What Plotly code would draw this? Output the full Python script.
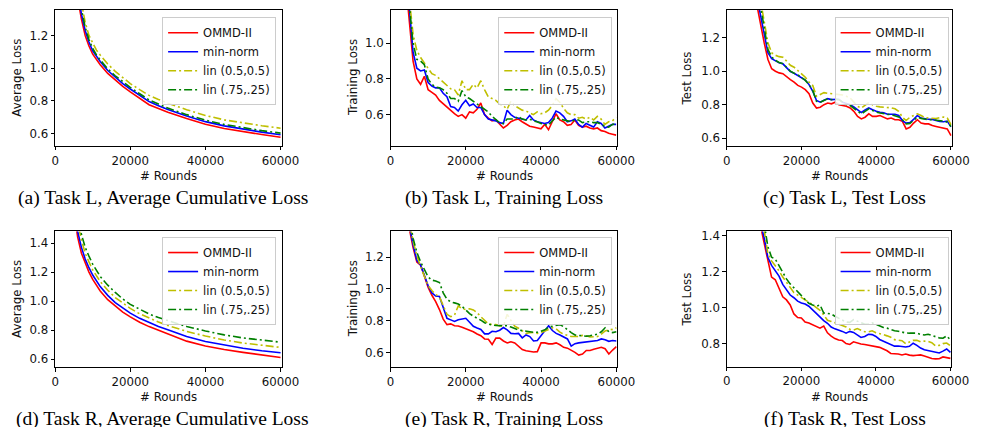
import plotly.graph_objects as go

# ---------------- data ----------------
LABELS = ["OMMD-II", "min-norm", "lin (0.5,0.5)", "lin (.75,.25)"]
COLORS = ["#ff0000", "#0000ff", "#bfbf00", "#008000"]
DASHES = ["solid", "solid", "8px,3px,2px,3px", "8px,3px,2px,3px"]

X_TICKS = [0, 20000, 40000, 60000]

# (a) Task L, average cumulative loss
a_x = [6000, 7000, 8000, 9000, 10000, 11000, 12000, 14000, 16000, 18000, 20000,
       22500, 25000, 27500, 30000, 35000, 40000, 45000, 50000, 55000, 60000]
a_ommd = [1.43, 1.30, 1.20, 1.135, 1.085, 1.05, 1.02, 0.967, 0.925, 0.888, 0.854,
          0.815, 0.776, 0.752, 0.729, 0.691, 0.656, 0.63, 0.61, 0.593, 0.576]
a_minnorm = [1.48, 1.33, 1.23, 1.16, 1.105, 1.07, 1.04, 0.985, 0.943, 0.905, 0.872,
             0.833, 0.795, 0.77, 0.746, 0.707, 0.672, 0.646, 0.625, 0.608, 0.592]
a_lin55 = [1.52, 1.39, 1.28, 1.20, 1.15, 1.11, 1.08, 1.025, 0.98, 0.94, 0.905,
           0.868, 0.833, 0.808, 0.785, 0.745, 0.71, 0.683, 0.663, 0.647, 0.632]
a_lin7525 = [1.50, 1.36, 1.25, 1.175, 1.12, 1.08, 1.05, 0.995, 0.953, 0.915, 0.882,
             0.843, 0.805, 0.78, 0.755, 0.715, 0.681, 0.655, 0.634, 0.617, 0.602]

# (b) Task L, training loss
b_x = [4000, 5000, 6000, 7000, 8000, 9000, 10000, 11000, 12000, 13000, 14000, 15000,
       16000, 17000, 18000, 19000, 20000, 21000, 22000, 23000, 24000, 25000, 26000,
       27000, 28000, 29000, 30000, 31000, 32000, 33000, 34000, 35000, 36000, 37000,
       38000, 39000, 40000, 41000, 42000, 43000, 44000, 45000, 46000, 47000, 48000,
       49000, 50000, 51000, 52000, 53000, 54000, 55000, 56000, 57000, 58000, 59000, 60000]
b_ommd = [1.35, 1.12, 0.90, 0.80, 0.77, 0.815, 0.74, 0.725, 0.71, 0.68, 0.66, 0.645,
          0.62, 0.605, 0.59, 0.60, 0.58, 0.615, 0.61, 0.63, 0.665, 0.60, 0.58, 0.565,
          0.57, 0.55, 0.525, 0.54, 0.56, 0.57, 0.575, 0.56, 0.545, 0.535, 0.53, 0.525,
          0.52, 0.545, 0.515, 0.56, 0.605, 0.57, 0.56, 0.54, 0.545, 0.57, 0.54, 0.53,
          0.535, 0.525, 0.52, 0.525, 0.51, 0.505, 0.495, 0.49, 0.485]
b_minnorm = [1.40, 1.20, 0.95, 0.86, 0.845, 0.85, 0.78, 0.76, 0.75, 0.75, 0.72, 0.70,
             0.645, 0.64, 0.62, 0.655, 0.68, 0.65, 0.66, 0.64, 0.64, 0.60, 0.575, 0.57,
             0.565, 0.555, 0.55, 0.625, 0.60, 0.585, 0.58, 0.575, 0.57, 0.595, 0.57,
             0.56, 0.555, 0.55, 0.555, 0.58, 0.62, 0.61, 0.59, 0.56, 0.565, 0.575,
             0.545, 0.53, 0.55, 0.54, 0.53, 0.56, 0.55, 0.525, 0.535, 0.545, 0.545]
b_lin55 = [1.45, 1.25, 1.05, 0.96, 0.92, 0.89, 0.86, 0.83, 0.82, 0.80, 0.785, 0.76,
           0.745, 0.74, 0.71, 0.79, 0.74, 0.74, 0.77, 0.75, 0.79, 0.74, 0.70, 0.69,
           0.68, 0.66, 0.65, 0.63, 0.675, 0.65, 0.635, 0.625, 0.62, 0.61, 0.60, 0.615,
           0.605, 0.61, 0.625, 0.65, 0.69, 0.67, 0.635, 0.61, 0.60, 0.60, 0.58, 0.585,
           0.575, 0.585, 0.57, 0.59, 0.575, 0.545, 0.56, 0.565, 0.585]
b_lin7525 = [1.42, 1.20, 1.00, 0.91, 0.90, 0.88, 0.80, 0.77, 0.755, 0.75, 0.74, 0.72,
             0.69, 0.69, 0.675, 0.735, 0.70, 0.69, 0.675, 0.665, 0.65, 0.635, 0.615,
             0.59, 0.57, 0.555, 0.55, 0.575, 0.575, 0.575, 0.59, 0.575, 0.57, 0.575,
             0.565, 0.56, 0.55, 0.545, 0.54, 0.565, 0.585, 0.575, 0.57, 0.565, 0.56,
             0.57, 0.57, 0.555, 0.56, 0.56, 0.555, 0.555, 0.545, 0.535, 0.53, 0.545, 0.55]

# (c) Task L, test loss
c_x = [8000, 9000, 10000, 11000, 12000, 13000, 14000, 15000, 16000, 17000, 18000,
       19000, 20000, 21000, 22000, 23000, 24000, 25000, 26000, 27000, 28000, 29000,
       30000, 31000, 32000, 33000, 34000, 35000, 36000, 37000, 38000, 39000, 40000,
       41000, 42000, 43000, 44000, 45000, 46000, 47000, 48000, 49000, 50000, 51000,
       52000, 53000, 54000, 55000, 56000, 57000, 58000, 59000, 60000]
c_ommd = [1.40, 1.28, 1.17, 1.07, 1.015, 1.00, 0.99, 0.985, 0.965, 0.95, 0.935, 0.915,
          0.905, 0.89, 0.865, 0.81, 0.78, 0.785, 0.80, 0.81, 0.805, 0.815, 0.80, 0.795,
          0.79, 0.78, 0.76, 0.73, 0.715, 0.725, 0.745, 0.73, 0.73, 0.735, 0.725, 0.715,
          0.72, 0.71, 0.71, 0.70, 0.655, 0.665, 0.69, 0.71, 0.69, 0.685, 0.685, 0.675,
          0.67, 0.665, 0.66, 0.655, 0.615]
c_minnorm = [1.45, 1.33, 1.21, 1.11, 1.075, 1.06, 1.05, 1.044, 1.022, 0.998, 0.988,
             0.975, 0.962, 0.947, 0.92, 0.88, 0.825, 0.815, 0.826, 0.836, 0.83, 0.833,
             0.832, 0.814, 0.806, 0.80, 0.786, 0.77, 0.753, 0.768, 0.78, 0.77, 0.76,
             0.755, 0.752, 0.743, 0.742, 0.743, 0.735, 0.705, 0.69, 0.693, 0.712, 0.735,
             0.72, 0.715, 0.713, 0.712, 0.706, 0.699, 0.698, 0.702, 0.667]
c_lin55 = [1.55, 1.42, 1.30, 1.17, 1.11, 1.095, 1.087, 1.083, 1.06, 1.035, 1.024, 1.005,
           0.985, 0.964, 0.935, 0.915, 0.85, 0.86, 0.872, 0.868, 0.866, 0.865, 0.862,
           0.858, 0.85, 0.84, 0.815, 0.79, 0.78, 0.795, 0.812, 0.80, 0.79, 0.787, 0.786,
           0.784, 0.781, 0.775, 0.76, 0.725, 0.705, 0.725, 0.735, 0.745, 0.735, 0.722,
           0.72, 0.718, 0.717, 0.722, 0.726, 0.72, 0.68]
c_lin7525 = [1.52, 1.40, 1.26, 1.13, 1.085, 1.065, 1.052, 1.045, 1.022, 1.00, 0.988,
             0.978, 0.962, 0.945, 0.92, 0.885, 0.82, 0.815, 0.825, 0.835, 0.83, 0.834,
             0.83, 0.815, 0.80, 0.795, 0.78, 0.76, 0.745, 0.76, 0.775, 0.765, 0.755,
             0.75, 0.745, 0.742, 0.74, 0.733, 0.727, 0.71, 0.685, 0.688, 0.705, 0.725,
             0.717, 0.713, 0.71, 0.71, 0.708, 0.705, 0.702, 0.695, 0.67]

# (d) Task R, average cumulative loss
d_x = [5000, 6000, 7000, 8000, 9000, 10000, 12000, 14000, 16000, 18000, 20000,
       22500, 25000, 27500, 30000, 35000, 40000, 45000, 50000, 55000, 60000]
d_ommd = [1.62, 1.44, 1.33, 1.26, 1.20, 1.15, 1.07, 1.01, 0.965, 0.925, 0.892,
          0.855, 0.825, 0.80, 0.777, 0.725, 0.692, 0.667, 0.648, 0.63, 0.613]
d_minnorm = [1.66, 1.48, 1.37, 1.29, 1.23, 1.18, 1.10, 1.04, 0.99, 0.952, 0.918,
             0.882, 0.852, 0.826, 0.803, 0.757, 0.723, 0.697, 0.676, 0.659, 0.645]
d_lin55 = [1.72, 1.54, 1.42, 1.33, 1.27, 1.215, 1.135, 1.075, 1.025, 0.985, 0.95,
           0.913, 0.882, 0.856, 0.833, 0.792, 0.76, 0.733, 0.712, 0.695, 0.682]
d_lin7525 = [1.76, 1.58, 1.46, 1.37, 1.31, 1.255, 1.17, 1.11, 1.06, 1.015, 0.978,
             0.943, 0.912, 0.887, 0.865, 0.826, 0.795, 0.768, 0.747, 0.731, 0.718]

# (e) Task R, training loss
e_x = b_x
e_ommd = [1.55, 1.38, 1.26, 1.17, 1.15, 1.08, 1.01, 0.96, 0.92, 0.87, 0.81, 0.775,
          0.78, 0.768, 0.766, 0.758, 0.75, 0.743, 0.73, 0.716, 0.705, 0.685, 0.683,
          0.65, 0.69, 0.69, 0.672, 0.66, 0.667, 0.66, 0.64, 0.618, 0.61, 0.606, 0.603,
          0.605, 0.66, 0.66, 0.654, 0.654, 0.66, 0.648, 0.632, 0.627, 0.615, 0.60,
          0.583, 0.59, 0.612, 0.612, 0.62, 0.628, 0.632, 0.623, 0.59, 0.615, 0.637]
e_minnorm = [1.58, 1.40, 1.28, 1.18, 1.15, 1.08, 1.02, 0.975, 0.955, 0.952, 0.88,
             0.815, 0.805, 0.795, 0.806, 0.81, 0.815, 0.79, 0.765, 0.754, 0.745, 0.717,
             0.717, 0.733, 0.73, 0.74, 0.757, 0.742, 0.72, 0.718, 0.72, 0.692, 0.71,
             0.70, 0.672, 0.675, 0.708, 0.742, 0.768, 0.738, 0.72, 0.71, 0.70, 0.685,
             0.64, 0.655, 0.66, 0.663, 0.665, 0.666, 0.668, 0.675, 0.685, 0.68, 0.67,
             0.675, 0.672]
e_lin55 = [1.60, 1.42, 1.30, 1.21, 1.14, 1.08, 1.02, 0.99, 0.965, 0.95, 0.89, 0.84,
           0.825, 0.835, 0.893, 0.875, 0.87, 0.875, 0.868, 0.85, 0.825, 0.80, 0.78,
           0.775, 0.775, 0.767, 0.768, 0.84, 0.80, 0.765, 0.752, 0.735, 0.72, 0.724,
           0.726, 0.72, 0.725, 0.735, 0.745, 0.755, 0.748, 0.728, 0.715, 0.708, 0.70,
           0.70, 0.70, 0.707, 0.705, 0.697, 0.698, 0.70, 0.715, 0.735, 0.742, 0.745, 0.755]
e_lin7525 = [1.62, 1.45, 1.32, 1.23, 1.17, 1.12, 1.075, 1.055, 1.05, 1.04, 0.975,
             0.935, 0.918, 0.912, 0.905, 0.89, 0.865, 0.845, 0.828, 0.818, 0.803,
             0.787, 0.778, 0.772, 0.77, 0.77, 0.766, 0.768, 0.76, 0.75, 0.742, 0.737,
             0.733, 0.73, 0.727, 0.727, 0.733, 0.742, 0.76, 0.765, 0.768, 0.775, 0.762,
             0.742, 0.725, 0.71, 0.706, 0.702, 0.702, 0.705, 0.708, 0.715, 0.73, 0.755,
             0.73, 0.725, 0.73]

# (f) Task R, test loss
f_x = c_x
f_ommd = [1.60, 1.46, 1.36, 1.27, 1.17, 1.155, 1.11, 1.06, 1.043, 1.015, 0.965,
          0.945, 0.943, 0.92, 0.914, 0.905, 0.895, 0.886, 0.897, 0.86, 0.842, 0.828,
          0.82, 0.817, 0.80, 0.795, 0.81, 0.803, 0.798, 0.795, 0.791, 0.788, 0.786,
          0.779, 0.77, 0.76, 0.745, 0.745, 0.742, 0.737, 0.742, 0.736, 0.733, 0.735,
          0.737, 0.731, 0.724, 0.717, 0.715, 0.716, 0.726, 0.724, 0.718]
f_minnorm = [1.62, 1.47, 1.39, 1.28, 1.235, 1.205, 1.175, 1.129, 1.10, 1.07, 1.055,
             1.036, 1.026, 1.02, 1.008, 0.988, 0.965, 0.945, 0.928, 0.913, 0.892,
             0.882, 0.876, 0.868, 0.858, 0.868, 0.862, 0.848, 0.834, 0.84, 0.852, 0.85,
             0.84, 0.823, 0.813, 0.805, 0.795, 0.786, 0.787, 0.783, 0.781, 0.785, 0.802,
             0.79, 0.775, 0.766, 0.762, 0.755, 0.75, 0.748, 0.758, 0.77, 0.751]
f_lin55 = [1.70, 1.56, 1.44, 1.30, 1.26, 1.235, 1.205, 1.17, 1.14, 1.11, 1.083, 1.07,
           1.055, 1.043, 1.031, 1.014, 1.0, 0.985, 0.96, 0.93, 0.923, 0.915, 0.907,
           0.90, 0.893, 0.88, 0.875, 0.884, 0.875, 0.866, 0.865, 0.871, 0.86, 0.856,
           0.85, 0.843, 0.835, 0.822, 0.818, 0.816, 0.799, 0.81, 0.818, 0.819, 0.81,
           0.814, 0.812, 0.805, 0.788, 0.79, 0.80, 0.803, 0.788]
f_lin7525 = [1.75, 1.60, 1.47, 1.34, 1.28, 1.27, 1.233, 1.198, 1.16, 1.132, 1.11,
             1.09, 1.068, 1.048, 1.024, 1.015, 1.008, 1.015, 0.97, 0.968, 0.965, 0.952,
             0.94, 0.928, 0.92, 0.918, 0.933, 0.925, 0.915, 0.908, 0.908, 0.915, 0.908,
             0.897, 0.89, 0.886, 0.877, 0.871, 0.869, 0.863, 0.859, 0.858, 0.858, 0.858,
             0.851, 0.848, 0.852, 0.845, 0.838, 0.832, 0.83, 0.843, 0.821]

Y_TITLES = ["Average Loss", "Training Loss", "Test Loss",
            "Average Loss", "Training Loss", "Test Loss"]
CAPTIONS = ["(a) Task L, Average Cumulative Loss", "(b) Task L, Training Loss",
            "(c) Task L, Test Loss", "(d) Task R, Average Cumulative Loss",
            "(e) Task R, Training Loss", "(f) Task R, Test Loss"]
Y_TICKS = [[0.6, 0.8, 1.0, 1.2], [0.6, 0.8, 1.0], [0.6, 0.8, 1.0, 1.2],
           [0.6, 0.8, 1.0, 1.2, 1.4], [0.6, 0.8, 1.0, 1.2], [0.8, 1.0, 1.2, 1.4]]
Y_RANGES = [[0.523, 1.356], [0.424, 1.187], [0.553, 1.366],
            [0.547, 1.48], [0.508, 1.3625], [0.672, 1.424]]
X_RANGES = [[0, 60300], [0, 60100], [0, 60200], [0, 60300], [0, 60100], [0, 60200]]

PANELS = [
    (a_x, [a_ommd, a_minnorm, a_lin55, a_lin7525]),
    (b_x, [b_ommd, b_minnorm, b_lin55, b_lin7525]),
    (c_x, [c_ommd, c_minnorm, c_lin55, c_lin7525]),
    (d_x, [d_ommd, d_minnorm, d_lin55, d_lin7525]),
    (e_x, [e_ommd, e_minnorm, e_lin55, e_lin7525]),
    (f_x, [f_ommd, f_minnorm, f_lin55, f_lin7525]),
]

# ---------------- layout geometry (pixels) ----------------
W, H = 989, 427
AX_PX = [(52.3, 284.0, 7, 144), (395.3, 626.5, 7, 144), (739.3, 969.3, 7, 144),
         (52.3, 284.0, 230, 366.6), (395.3, 626.7, 230, 366.6), (739.3, 968.7, 230, 366.2)]
LEG_PX = [(161.7, 14.3), (505.5, 14.3), (849.5, 14.3), (161.7, 235.7), (505.5, 235.7), (849.5, 235.7)]
YT_X = [13, 357, 699, 13, 357, 699]
XT_X = [168.3, 511.7, 855, 168.3, 511.7, 855]
CAP_X = [162.5, 511.7, 860, 162.5, 511.7, 860]
XT_Y = [174, 174, 174, 396.7, 396.7, 396.7]
CAP_Y = [196.7, 196.7, 196.7, 418.5, 418.5, 418.5]

SANS = "DejaVu Sans"
SERIF = "Liberation Serif"
SANS_SIZE = 11.8

fig = go.Figure()
layout = dict(width=W, height=H, margin=dict(l=0, r=0, t=0, b=0),
              paper_bgcolor="white", plot_bgcolor="white", showlegend=True)
annotations = []

for i, (xs, series) in enumerate(PANELS):
    n = i + 1
    xa = "x" if n == 1 else f"x{n}"
    ya = "y" if n == 1 else f"y{n}"
    leg = "legend" if n == 1 else f"legend{n}"
    for j, ys in enumerate(series):
        fig.add_trace(go.Scatter(
            x=xs[len(xs) - len(ys):], y=ys, mode="lines", name=LABELS[j],
            line=dict(color=COLORS[j], width=1.6, dash=DASHES[j]),
            xaxis=xa, yaxis=ya, legend=leg, showlegend=True))
    l, r, t, b = AX_PX[i]
    axcommon = dict(showline=True, linecolor="black", linewidth=1, mirror=True,
                    ticks="outside", ticklen=3.5, tickwidth=1, tickcolor="black",
                    showgrid=False, zeroline=False,
                    tickfont=dict(family=SANS, size=SANS_SIZE, color="#111111"))
    layout["xaxis" if n == 1 else f"xaxis{n}"] = dict(
        domain=[l / W, r / W], range=X_RANGES[i], tickvals=X_TICKS,
        ticktext=[str(v) for v in X_TICKS], anchor=ya, **axcommon)
    layout["yaxis" if n == 1 else f"yaxis{n}"] = dict(
        domain=[1 - b / H, 1 - t / H], range=Y_RANGES[i], tickvals=Y_TICKS[i],
        ticktext=[f"{v:.1f}" for v in Y_TICKS[i]], anchor=xa, **axcommon)
    lx, ly = LEG_PX[i]
    layout[leg] = dict(x=lx / W, y=1 - ly / H, xanchor="left", yanchor="top",
                       bgcolor="rgba(255,255,255,0.85)", bordercolor="#cccccc",
                       borderwidth=1, font=dict(family=SANS, size=11.5, color="#111111"),
                       itemwidth=30, tracegroupgap=0)
    annotations.append(dict(text=Y_TITLES[i], x=YT_X[i] / W, y=1 - (t + b) / 2 / H,
                            xref="paper", yref="paper", showarrow=False, textangle=-90,
                            xanchor="center", yanchor="middle",
                            font=dict(family=SANS, size=SANS_SIZE, color="#111111")))
    annotations.append(dict(text="# Rounds", x=XT_X[i] / W, y=1 - XT_Y[i] / H,
                            xref="paper", yref="paper", showarrow=False,
                            xanchor="center", yanchor="middle",
                            font=dict(family=SANS, size=SANS_SIZE, color="#111111")))
    annotations.append(dict(text=CAPTIONS[i], x=CAP_X[i] / W, y=1 - CAP_Y[i] / H,
                            xref="paper", yref="paper", showarrow=False,
                            xanchor="center", yanchor="middle",
                            font=dict(family=SERIF, size=19.5, color="black")))

layout["annotations"] = annotations
fig.update_layout(**layout)
fig.write_html("out.html", config={"displayModeBar": False},
               post_script="document.body.style.margin='0';document.body.style.padding='0';")
